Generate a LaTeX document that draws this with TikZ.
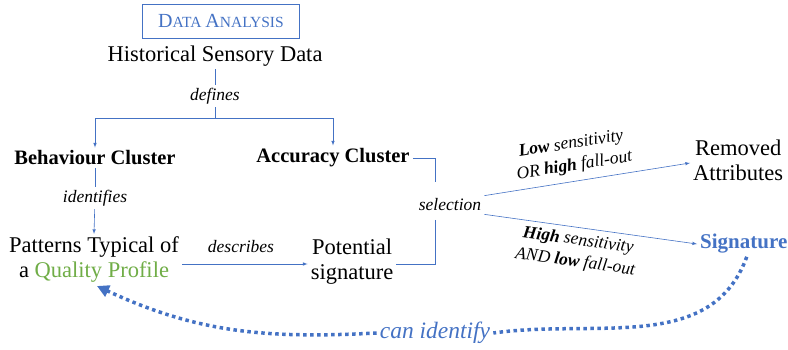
\documentclass[tikz,border=0pt]{standalone}
\usepackage{fontspec}
\setmainfont{LiberationSerif}[Extension=.ttf, UprightFont=*-Regular,
    BoldFont=*-Bold, ItalicFont=*-Italic, BoldItalicFont=*-BoldItalic]
\usetikzlibrary{arrows.meta}

\definecolor{accent}{HTML}{4472C4}
\definecolor{profile}{HTML}{70AD47}

\begin{document}
\begin{tikzpicture}[x=1pt,y=-1pt,>=latex,
    conn/.style={draw=accent, line width=0.6pt},
    word/.style={font=\fontsize{17.5}{22}\selectfont\itshape, inner sep=3pt},
    term/.style={font=\fontsize{22.5}{25}\selectfont, align=center, inner sep=3pt},
    cluster/.style={term, font=\fontsize{20.5}{25}\selectfont\bfseries},
    dotline/.style={draw=accent, line width=3.5pt, dash pattern=on 3.5pt off 3.5pt}]

    \useasboundingbox (0,0) rectangle (788,350);

    \node[draw=accent, line width=0.8pt, text=accent, minimum width=157pt,
        minimum height=34pt, inner sep=0pt] (title) at (221,21)
        {\fontsize{20}{20}\selectfont D\fontsize{15.5}{16}\selectfont ATA
         \fontsize{20}{20}\selectfont A\fontsize{15.5}{16}\selectfont NALYSIS};
    \node[term] (hist) at (215,56) {Historical Sensory Data};
    \node[word] (defines) at (215,96) {defines};
    \coordinate (split) at (215,118);

    \node[cluster] (beh) at (95,158) {Behaviour Cluster};
    \node[cluster] (acc) at (333,158) {Accuracy Cluster};
    \node[word] (ident) at (95,198) {identifies};

    \node[term] (pat) at (94,260)
        {Patterns Typical of\\a \textcolor{profile}{Quality Profile}};
    \node[word] (desc) at (241,247) {describes};
    \node[term] (pot) at (352,262) {Potential\\signature};

    \node[word] (sel) at (450,205) {selection};
    \coordinate (brkA) at (435,158);
    \coordinate (brkB) at (435,182);
    \coordinate (brkC) at (435,220);
    \coordinate (brkD) at (435,264);

    \node[term, anchor=west] (rem) at (690,160) {Removed\\Attributes};
    \node[term, anchor=west, text=accent, font=\fontsize{21}{25}\selectfont\bfseries]
        (sig) at (697,244) {Signature};
    \node[word, font=\fontsize{23.5}{26}\selectfont\itshape, text=accent]
        (canid) at (435,333) {can identify};

    % tree at the top
    \draw[conn] (hist) -- (defines);
    \draw[conn] (defines) -- (split);
    \draw[conn,->] (split) -| (beh.north);
    \draw[conn,->] (split) -| (acc.north);
    \draw[conn] (beh) -- (ident);
    \draw[conn,->] (ident) -- (pat.north);
    \draw[conn,->] ([yshift=-2pt]pat.east |- pot) -- ([yshift=-2pt]pot.west);

    % selection bracket
    \draw[conn] (acc.east) -- (brkA) -- (brkB);
    \draw[conn] (brkC) -- (brkD) -- (pot.east |- brkD);

    \draw[conn,->] (sel.north east) -- ([yshift=-3pt]rem.west)
        node[pos=0.45, above=4pt, sloped, word, align=center]
        {\textbf{Low} sensitivity\\OR \textbf{high} fall-out};
    \draw[conn,->] (sel.south east) -- (sig.west)
        node[pos=0.45, below=2pt, sloped, word, align=center]
        {\textbf{High} sensitivity\\AND \textbf{low} fall-out};

    % feedback loop
    \draw[dotline] ([xshift=3pt]sig.south) to[out=-110, in=8] (canid.east);
    \draw[dotline, -{Triangle[length=12pt, width=12pt]}]
        (canid.west) to[out=183, in=-25] ([xshift=3pt]pat.south);

\end{tikzpicture}
\end{document}
